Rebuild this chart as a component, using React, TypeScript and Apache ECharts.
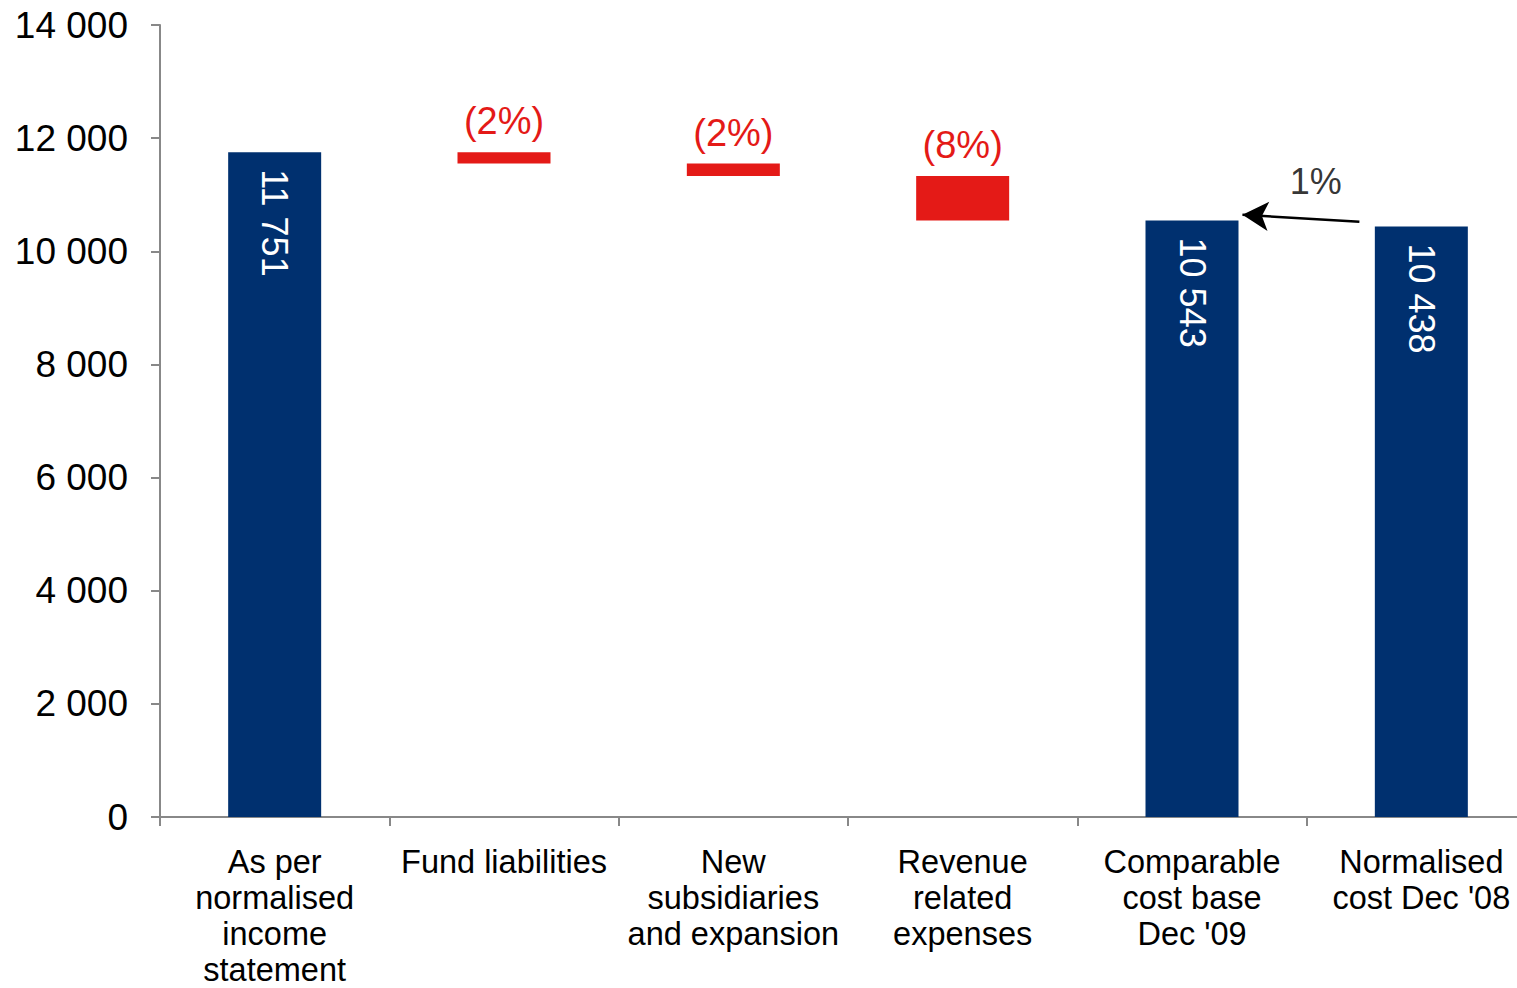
import React, { useEffect, useRef } from "react";
import * as echarts from "echarts";

const categories = [
  "As per\nnormalised\nincome\nstatement",
  "Fund liabilities",
  "New\nsubsidiaries\nand expansion",
  "Revenue\nrelated\nexpenses",
  "Comparable\ncost base\nDec '09",
  "Normalised\ncost Dec '08",
];
const totals: (number | null)[] = [11751, null, null, null, 10543, 10438];
const deltas: (number | null)[] = [null, -201, -220, -787, null, null];
const deltaLabels: (string | null)[] = [null, "(2%)", "(2%)", "(8%)", null, null];
const yTicks = { min: 0, max: 14000, interval: 2000 };
// arrow annotation, in [category-position, value] space (category i spans i..i+1)
const arrowFrom = [5.23, 10520];
const arrowTo = [4.72, 10645];
const arrowLabelPos = [5.04, 11230];
const arrowLabel = "1%";

const BLUE = "#00306f";
const RED = "#e41a17";
const FONT = "'Liberation Sans', Arial, sans-serif";

const fmt = (v: number) => String(v).replace(/\B(?=(\d{3})+(?!\d))/g, " ");

export default function App() {
  const ref = useRef<HTMLDivElement>(null);
  useEffect(() => {
    if (!ref.current) return;
    const chart = echarts.init(ref.current, undefined, { renderer: "svg" });

    const base: (number | string)[] = [];
    const red: (number | string)[] = [];
    let running = totals[0] as number;
    categories.forEach((_, i) => {
      const d = deltas[i];
      if (d != null) {
        const b = running + d;
        base.push(b);
        red.push(-d);
        running = b;
      } else {
        base.push("-");
        red.push("-");
      }
    });
    const blue = totals.map((v) => (v == null ? "-" : v));

    chart.setOption({
      animation: false,
      textStyle: { fontFamily: FONT },
      grid: { left: 160, top: 25, bottom: 171, right: -19, outerBoundsMode: "none", containLabel: false },
      xAxis: [
        {
          type: "category",
          data: categories,
          axisLine: { lineStyle: { color: "#888", width: 2 } },
          axisTick: { show: true, length: 9, lineStyle: { color: "#888", width: 2 } },
          axisLabel: {
            color: "#000",
            fontSize: 32.5,
            lineHeight: 36,
            margin: 27,
            interval: 0,
            fontFamily: FONT,
          },
        },
        { type: "value", min: 0, max: 6, show: false },
      ],
      yAxis: {
        type: "value",
        min: yTicks.min,
        max: yTicks.max,
        interval: yTicks.interval,
        splitLine: { show: false },
        axisLine: { show: true, lineStyle: { color: "#888", width: 2 } },
        axisTick: { show: true, length: 9, lineStyle: { color: "#888", width: 2 } },
        axisLabel: {
          color: "#000",
          fontSize: 37,
          margin: 32,
          fontFamily: FONT,
          formatter: (v: number) => fmt(v),
        },
      },
      series: [
        {
          type: "bar",
          stack: "w",
          data: base,
          barWidth: 93,
          itemStyle: { color: "transparent" },
          silent: true,
        },
        {
          type: "bar",
          stack: "w",
          data: red,
          barWidth: 93,
          itemStyle: { color: RED },
          label: {
            show: true,
            position: "top",
            distance: 12,
            color: RED,
            fontSize: 38,
            fontFamily: FONT,
            formatter: (p: any) => deltaLabels[p.dataIndex] ?? "",
          },
        },
        {
          type: "bar",
          stack: "w",
          data: blue,
          barWidth: 93,
          itemStyle: { color: BLUE },
          label: {
            show: true,
            position: "insideTop",
            rotate: -90,
            align: "left",
            verticalAlign: "middle",
            distance: 17,
            color: "#fff",
            fontSize: 36,
            fontFamily: FONT,
            formatter: (p: any) => fmt(p.value),
          },
        },
        {
          type: "scatter",
          xAxisIndex: 1,
          data: [arrowLabelPos],
          symbolSize: 0,
          silent: true,
          label: {
            show: true,
            position: "inside",
            formatter: arrowLabel,
            color: "#000",
            fontSize: 36,
            fontFamily: FONT,
          },
          markLine: {
            silent: true,
            symbol: ["arrow", "none"],
            symbolSize: [22, 26],
            label: { show: false },
            lineStyle: { color: "#000", width: 2.5, type: "solid" },
            data: [[{ coord: arrowTo }, { coord: arrowFrom }]],
          },
        },
      ],
    });
    return () => chart.dispose();
  }, []);
  return (
    <div
      ref={ref}
      style={{ position: "absolute", left: 0, top: 0, width: 1517, height: 988, background: "#fff" }}
    />
  );
}
